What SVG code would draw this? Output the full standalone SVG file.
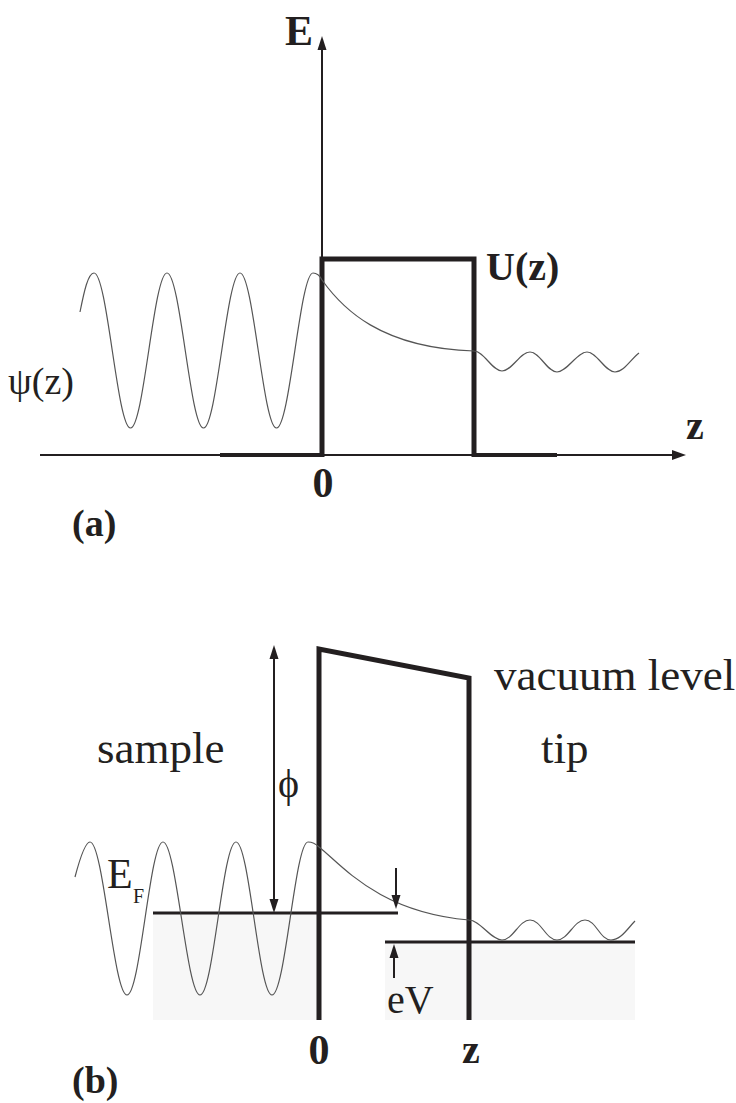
<svg xmlns="http://www.w3.org/2000/svg" width="736" height="1103" viewBox="0 0 736 1103">
<defs>
<style>
.ln{fill:none;stroke:#231f20;stroke-linecap:butt;stroke-linejoin:miter}
.ax{stroke-width:2}
.bar{stroke-width:5}
.fe{stroke-width:3}
.wv{fill:none;stroke:#555;stroke-width:1.2}
.ah{fill:#231f20}
.b{font-family:"Liberation Serif","Times New Roman",serif;font-weight:bold;fill:#231f20}
.r{font-family:"Liberation Serif","Times New Roman",serif;fill:#231f20}
</style>
</defs>
<rect width="736" height="1103" fill="#fff"/>
<g id="panel-a">
  <g id="axes-a">
    <path class="ln ax" d="M40,455 H675"/>
    <path class="ah" d="M686,455 L672,450 L672,460 Z"/>
    <path class="ln ax" d="M322,455 V48"/>
    <path class="ah" d="M322,36 L317.5,50 L326.5,50 Z"/>
  </g>
  <g id="barrier-a">
    <path class="ln" stroke-width="4" d="M220,455 H322 M474,455 H557"/>
    <path class="ln bar" d="M322,457 V259 H474 V457"/>
  </g>
  <g id="wave-a">
    <path class="wv" d="M80,312 C84,292 88,273 94,273 C107.3,273 117.2,428 130.5,428 C143.8,428 153.7,273 167,273 C180.3,273 190.2,428 203.5,428 C216.8,428 226.7,273 240,273 C253.3,273 263.2,428 276.5,428 C289.8,428 300,273 313,273 C317,273 320,276 322,280 C342,308 380,348 474,351 C484,351 492,371 502,371 C512,371 520,352 530,352 C540,352 547,372 557,372 C567,372 577,352 587,352 C597,352 605,372 615,372 C624,372 631,359 639,353"/>
  </g>
  <g id="labels-a">
    <text class="b" x="285" y="45" font-size="42">E</text>
    <text class="b" x="486" y="280" font-size="40">U(z)</text>
    <text class="r" x="8" y="394" font-size="38">ψ(z)</text>
    <text class="b" x="686" y="439" font-size="40">z</text>
    <text class="b" x="323" y="497" font-size="42" text-anchor="middle">0</text>
    <text class="b" x="72" y="536" font-size="38">(a)</text>
  </g>
</g>
<g id="panel-b">
  <g id="shading-b">
    <rect x="153" y="914" width="166" height="106" fill="#f7f7f7"/>
    <rect x="385" y="943" width="250" height="77" fill="#f7f7f7"/>
  </g>
  <g id="barrier-b">
    <path class="ln bar" d="M319,1020 V649 L469,678 V1020"/>
  </g>
  <g id="fermi-levels">
    <path class="ln fe" d="M153,913 H398"/>
    <path class="ln fe" d="M385,942 H635"/>
  </g>
  <g id="wave-b">
    <path class="wv" d="M75,877 C80,858 85,842 90,842 C103.3,842 113.7,995 127,995 C140.3,995 149.7,842 163,842 C176.3,842 186.7,995 200,995 C213.3,995 222.7,842 236,842 C249.3,842 258.7,995 272,995 C285.3,995 295,842 308,842 C312,842 316,844 319,847 C342,865 378,912 469,920 C480,920 491,940 502,940 C513,940 519,920 530,920 C541,920 546,940 557,940 C568,940 574,920 585,920 C596,920 600,940 611,940 C621,940 628,928 635,921"/>
  </g>
  <g id="connectors">
    <path class="ln ax" d="M274,657 V901"/>
    <path class="ah" d="M274,645 L269.5,659 L278.5,659 Z"/>
    <path class="ah" d="M274,913 L269.5,899 L278.5,899 Z"/>
    <path class="ln ax" d="M396,868 V897"/>
    <path class="ah" d="M396,909 L391.5,895 L400.5,895 Z"/>
    <path class="ln ax" d="M394,956 V978"/>
    <path class="ah" d="M394,944 L389.5,958 L398.5,958 Z"/>
  </g>
  <g id="labels-b">
    <text class="r" x="494" y="690" font-size="45">vacuum level</text>
    <text class="r" x="97" y="763" font-size="45">sample</text>
    <text class="r" x="541" y="763" font-size="45">tip</text>
    <text class="r" x="278" y="797" font-size="40">ϕ</text>
    <text class="r" x="107" y="888" font-size="42">E</text>
    <text class="r" x="133" y="903" font-size="20">F</text>
    <text class="r" x="387" y="1013" font-size="40">eV</text>
    <text class="b" x="319" y="1064" font-size="42" text-anchor="middle">0</text>
    <text class="b" x="462" y="1063" font-size="40">z</text>
    <text class="b" x="72" y="1093" font-size="38">(b)</text>
  </g>
</g>
</svg>
